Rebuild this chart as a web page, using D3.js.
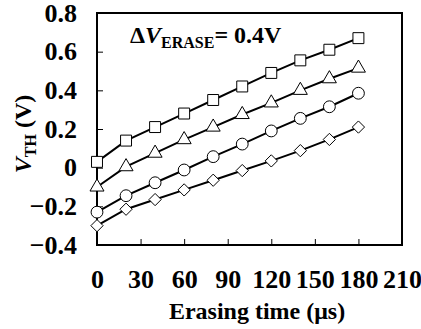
<!DOCTYPE html>
<html>
<head>
<meta charset="utf-8">
<script src="https://cdn.jsdelivr.net/npm/d3@7"></script>
<style>
  body { margin: 0; background: #fff; }
  svg text { font-family: 'Liberation Serif', 'Times New Roman', Times, serif !important; font-weight: bold; }
</style>
</head>
<body>
<div id="chart"></div>
<script>
// erasing time (us)
var times = [0, 20, 40, 60, 80, 100, 120, 140, 160, 180];
// VTH (V) per curve
var squareVals = [0.03, 0.14, 0.21, 0.28, 0.35, 0.42, 0.49, 0.555, 0.61, 0.67];
var triangleVals = [-0.10, 0.005, 0.075, 0.145, 0.21, 0.275, 0.335, 0.40, 0.46, 0.515];
var circleVals = [-0.23, -0.145, -0.078, -0.012, 0.057, 0.122, 0.19, 0.255, 0.315, 0.385];
var diamondVals = [-0.30, -0.215, -0.165, -0.115, -0.065, -0.015, 0.035, 0.088, 0.146, 0.21];
var xTicks = [0, 30, 60, 90, 120, 150, 180, 210];
var yTicks = [-0.4, -0.2, 0, 0.2, 0.4, 0.6, 0.8];

var svgWidth = 421, svgHeight = 329;
var margin = { top: 13, right: 19, bottom: 84, left: 97 };
var width = svgWidth - margin.left - margin.right;
var height = svgHeight - margin.top - margin.bottom;

var svg = d3.select('#chart').append('svg')
  .attr('width', svgWidth)
  .attr('height', svgHeight);

var x = d3.scaleLinear().domain([0, 210]).range([0, width]);
var y = d3.scaleLinear().domain([-0.4, 0.8]).range([height, 0]);

var g = svg.append('g')
  .attr('transform', 'translate(' + margin.left + ',' + margin.top + ')');

// frame
g.append('rect')
  .attr('width', width).attr('height', height)
  .attr('fill', 'none').attr('stroke', '#000').attr('stroke-width', 2);

// axis-x (ticks pointing in)
var xAxis = g.append('g')
  .attr('transform', 'translate(0,' + height + ')')
  .call(d3.axisBottom(x).tickValues(xTicks).tickSize(-6).tickPadding(25).tickFormat(d3.format('d')))
  .attr('font-size', 26);
xAxis.select('.domain').remove();
xAxis.selectAll('.tick line').attr('stroke-width', 1)
  .attr('display', function (d) { return d === 0 || d === 210 ? 'none' : null; });

// axis-y
var yAxis = g.append('g')
  .call(d3.axisLeft(y).tickValues(yTicks).tickSize(-6).tickPadding(20)
    .tickFormat(function (d) { return d === 0 ? '0' : d3.format('.1f')(d); }))
  .attr('font-size', 26);
yAxis.select('.domain').remove();
yAxis.selectAll('.tick line').attr('stroke-width', 1)
  .attr('display', function (d) { return d === -0.4 || d === 0.8 ? 'none' : null; });

// axis titles
svg.append('text')
  .attr('x', 257).attr('y', 319)
  .attr('text-anchor', 'middle').attr('font-size', 24)
  .text('Erasing time (μs)');

var yt = svg.append('text')
  .attr('transform', 'translate(31,' + 134 + ') rotate(-90)')
  .attr('text-anchor', 'middle').attr('font-size', 24);
yt.append('tspan').attr('font-style', 'italic').text('V');
yt.append('tspan').attr('font-size', 16).attr('dy', 5).text('TH');
yt.append('tspan').attr('dy', -5).text(' (V)');

// annotation
var ann = g.append('text')
  .attr('x', 33).attr('y', 30).attr('font-size', 24);
ann.append('tspan').text('Δ');
ann.append('tspan').attr('font-style', 'italic').text('V');
ann.append('tspan').attr('font-size', 16).attr('dy', 5).text('ERASE');
ann.append('tspan').attr('dy', -5).text('= 0.4V');

var diamond = {
  draw: function (ctx, size) {
    var r = Math.sqrt(size / 2);
    ctx.moveTo(0, -r); ctx.lineTo(r, 0); ctx.lineTo(0, r); ctx.lineTo(-r, 0); ctx.closePath();
  }
};

var series = [
  { vals: squareVals, sym: d3.symbolSquare, size: 120 },
  { vals: triangleVals, sym: d3.symbolTriangle, size: 85 },
  { vals: circleVals, sym: d3.symbolCircle, size: 110 },
  { vals: diamondVals, sym: diamond, size: 75 }
];

var line = d3.line()
  .x(function (d) { return x(d[0]); })
  .y(function (d) { return y(d[1]); });

series.forEach(function (s) {
  var pts = times.map(function (t, i) { return [t, s.vals[i]]; });
  g.append('path')
    .attr('d', line(pts))
    .attr('fill', 'none').attr('stroke', '#000').attr('stroke-width', 2);
  g.selectAll(null)
    .data(pts)
    .enter().append('path')
    .attr('transform', function (d) { return 'translate(' + x(d[0]) + ',' + y(d[1]) + ')'; })
    .attr('d', d3.symbol().type(s.sym).size(s.size))
    .attr('fill', '#fff').attr('stroke', '#000').attr('stroke-width', 1);
});
</script>
</body>
</html>
